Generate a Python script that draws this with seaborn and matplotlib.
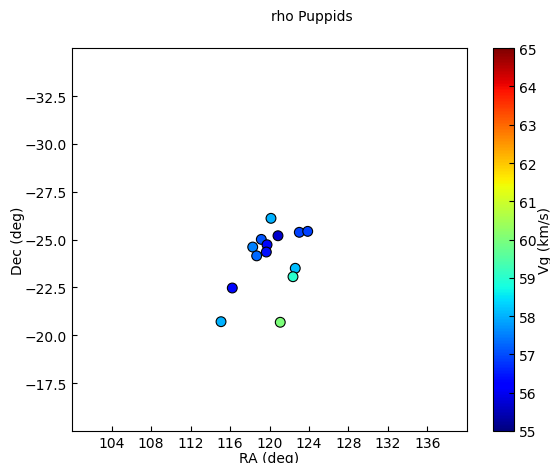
import numpy as np
import pandas as pd
import matplotlib
matplotlib.use('Agg')
import matplotlib.pyplot as plt
import seaborn as sns

# meteor radiants, rho Puppids
ra = [120.15, 120.86, 123.02, 123.87, 119.17, 119.75, 118.3, 119.68, 118.7,
      122.61, 122.38, 116.23, 115.09, 121.09]
dec = [-26.11, -25.2, -25.38, -25.43, -25.01, -24.73, -24.61, -24.35, -24.15,
       -23.5, -23.06, -22.47, -20.71, -20.68]
vg = [58.0, 55.7, 56.9, 56.9, 57.1, 56.3, 57.5, 56.4, 57.3,
      58.1, 59.0, 56.3, 58.0, 60.0]

df = pd.DataFrame({'ra': ra, 'dec': dec, 'vg': vg})
jet = matplotlib.colormaps['jet']

fig = plt.figure(figsize=(5.5, 4.64), dpi=100)
ax = fig.add_axes([0.131, 0.069, 0.718, 0.825])
cax = fig.add_axes([0.896, 0.069, 0.039, 0.825])

sns.scatterplot(data=df, x='ra', y='dec', hue='vg', palette=jet,
                hue_norm=(55, 65), s=50, edgecolor='black', linewidth=0.8,
                legend=False, ax=ax)

ax.set_xlim(100, 140)
ax.set_ylim(-15, -35)
ax.set_xticks(np.arange(104, 137, 4))
ax.set_yticks([-32.5, -30.0, -27.5, -25.0, -22.5, -20.0, -17.5])
ax.tick_params(direction='in')
ax.set_xlabel('RA (deg)', labelpad=1)
ax.set_ylabel('Dec (deg)', labelpad=0)

sm = plt.cm.ScalarMappable(cmap=jet, norm=plt.Normalize(55, 65))
cb = fig.colorbar(sm, cax=cax)
cb.set_ticks(range(55, 66))
cb.ax.tick_params(direction='in')
cb.set_label('Vg (km/s)', labelpad=1)

fig.text(312 / 550, 1 - 17 / 464, 'rho Puppids', ha='center', va='center')

fig.savefig('out.png', dpi=100)
